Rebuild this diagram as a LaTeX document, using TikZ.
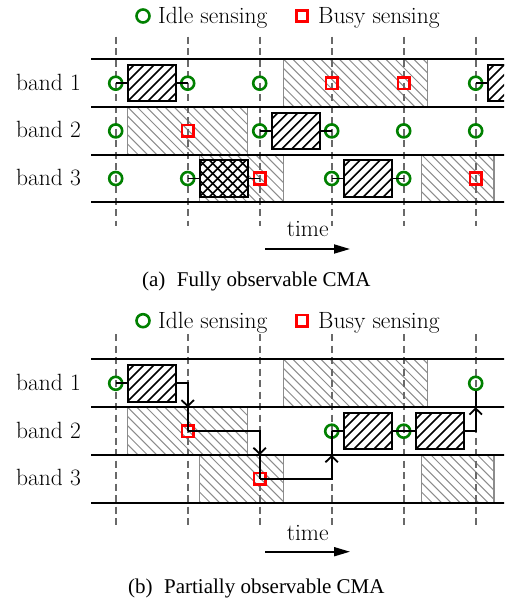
\documentclass[tikz,border=0pt]{standalone}
\usepackage{fontspec}
\newfontfamily\capfont{Liberation Serif}
\usetikzlibrary{arrows.meta}
\definecolor{idlegreen}{RGB}{0,128,0}
\definecolor{busyred}{RGB}{255,0,0}
\definecolor{dashgray}{RGB}{105,105,105}
\definecolor{hatchgray}{RGB}{140,140,140}
\tikzset{
  hatchNE/.style={path picture={
    \foreach \k in {-6,...,6}
      \draw[black, line width=1.6pt] ([xshift=\k*10pt]path picture bounding box.south west) -- ++(80pt,80pt);}},
  hatchX/.style={path picture={
    \foreach \k in {-6,...,6}{
      \draw[black, line width=1.6pt] ([xshift=\k*10pt]path picture bounding box.south west) -- ++(80pt,80pt);
      \draw[black, line width=1.6pt] ([xshift=\k*10pt]path picture bounding box.north west) -- ++(80pt,-80pt);}}},
  grayNW/.style={path picture={
    \foreach \k in {-8,...,18}
      \draw[hatchgray, line width=1pt] ([xshift=\k*9.3pt]path picture bounding box.north west) -- ++(90pt,-90pt);}},
  idle/.style={circle, draw=idlegreen, line width=2.6pt, minimum size=13pt, inner sep=0pt},
  busy/.style={rectangle, draw=busyred, line width=2.6pt, minimum size=11.5pt, inner sep=0pt},
  txbox/.style={rectangle, draw=black, line width=2pt, fill=white, minimum width=48.3pt, minimum height=36.5pt, inner sep=0pt, hatchNE},
  xbox/.style={rectangle, draw=black, line width=2pt, fill=white, minimum width=48.3pt, minimum height=36.5pt, inner sep=0pt, hatchX},
  occupied/.style={draw=hatchgray, line width=1.3pt, grayNW},
  bandline/.style={line width=2pt},
  tickline/.style={draw=dashgray, line width=1.6pt, dash pattern=on 7pt off 4.5pt},
  link/.style={line width=1.8pt},
  barb/.style={line width=1.8pt, -{Straight Barb[length=6pt,width=12.5pt]}},
  timearrow/.style={line width=1.8pt, -{Triangle[length=16pt,width=9pt]}},
  lbl/.style={font=\fontsize{23.5}{28}\selectfont, inner sep=0pt},
  caplbl/.style={font=\capfont\fontsize{21}{25}\selectfont, inner sep=0pt},
}
\begin{document}
\begin{tikzpicture}[x=1pt,y=-1pt]
\path[use as bounding box] (0,0) rectangle (504,600);
\clip (0,0) rectangle (504,600);

%%%%%%%%%%%%%%%% (a) %%%%%%%%%%%%%%%%
\path[occupied] (283.7,59.3) rectangle (427.7,107);
\path[occupied] (127.7,107) rectangle (247.7,154.7);
\path[occupied] (199.7,154.7) rectangle (283.7,202.3);
\path[occupied] (421.7,154.7) rectangle (494,202.3);
\foreach \x in {115.7,187.7,259.7,331.7,403.7,475.7}
  \draw[tickline] (\x,36.7) -- (\x,226);
\foreach \y in {59.3,107,154.7,202.3}
  \draw[bandline] (91,\y) -- (510,\y);

\node[lbl, anchor=base east] (aL1) at (81,90) {band 1};
\node[lbl, anchor=base east] (aL2) at (81,137.9) {band 2};
\node[lbl, anchor=base east] (aL3) at (81,185.5) {band 3};

% legend
\node[idle] (aLgI) at (143,16) {};
\node[lbl, anchor=base west] (aLgIt) at (158,23.5) {Idle sensing};
\node[busy] (aLgB) at (302,16) {};
\node[lbl, anchor=base west] (aLgBt) at (318,23.5) {Busy sensing};

% boxes
\node[txbox] (aB1a) at (151.7,83.2) {};
\node[txbox] (aB1b) at (511.7,83.2) {};
\node[txbox] (aB2) at (295.7,130.9) {};
\node[xbox] (aB3a) at (223.7,178.5) {};
\node[txbox] (aB3b) at (367.7,178.5) {};

% band 1 markers
\node[idle] (a10) at (115.7,83.2) {};
\node[idle] (a11) at (187.7,83.2) {};
\node[idle] (a12) at (259.7,83.2) {};
\node[busy] (a13) at (331.7,83.2) {};
\node[busy] (a14) at (403.7,83.2) {};
\node[idle] (a15) at (475.7,83.2) {};
% band 2 markers
\node[idle] (a20) at (115.7,130.9) {};
\node[busy] (a21) at (187.7,130.9) {};
\node[idle] (a22) at (259.7,130.9) {};
\node[idle] (a23) at (331.7,130.9) {};
\node[idle] (a24) at (403.7,130.9) {};
\node[idle] (a25) at (475.7,130.9) {};
% band 3 markers
\node[idle] (a30) at (115.7,178.5) {};
\node[idle] (a31) at (187.7,178.5) {};
\node[busy] (a32) at (259.7,178.5) {};
\node[idle] (a33) at (331.7,178.5) {};
\node[idle] (a34) at (403.7,178.5) {};
\node[busy] (a35) at (475.7,178.5) {};

% connectors
\draw[link] (a10.center) -- (aB1a.west);
\draw[link] (aB1a.east) -- (a11.center);
\draw[link] (a15.center) -- (aB1b.west);
\draw[link] (a22.center) -- (aB2.west);
\draw[link] (aB2.east) -- (a23.center);
\draw[link] (a31.center) -- (aB3a.west);
\draw[link] (aB3a.east) -- (a32.center);
\draw[link] (a33.center) -- (aB3b.west);
\draw[link] (aB3b.east) -- (a34.center);

% time
\node[lbl, anchor=base] (aT) at (307.7,236.7) {time};
\coordinate (aTs) at (265,249);
\coordinate (aTe) at (350,249);
\draw[timearrow] (aTs) -- (aTe);
\node[caplbl] (aCap) at (256.3,281.7) {(a)\hspace{0.55em}Fully observable CMA};

%%%%%%%%%%%%%%%% (b) %%%%%%%%%%%%%%%%
\path[occupied] (283.7,359.3) rectangle (427.7,407.3);
\path[occupied] (127.7,407.3) rectangle (247.7,455);
\path[occupied] (199.7,455) rectangle (283.7,502.7);
\path[occupied] (421.7,455) rectangle (494,502.7);
\foreach \x in {115.7,187.7,259.7,331.7,403.7,475.7}
  \draw[tickline] (\x,334) -- (\x,527);
\foreach \y in {359.3,407.3,455,502.7}
  \draw[bandline] (91,\y) -- (510,\y);

\node[lbl, anchor=base east] (bL1) at (81,390.3) {band 1};
\node[lbl, anchor=base east] (bL2) at (81,438.2) {band 2};
\node[lbl, anchor=base east] (bL3) at (81,485.9) {band 3};

% legend
\node[idle] (bLgI) at (143,320.7) {};
\node[lbl, anchor=base west] (bLgIt) at (158,328.2) {Idle sensing};
\node[busy] (bLgB) at (302,320.7) {};
\node[lbl, anchor=base west] (bLgBt) at (318,328.2) {Busy sensing};

% boxes
\node[txbox] (bB1) at (151.7,383.3) {};
\node[txbox] (bB2a) at (367.7,431.2) {};
\node[txbox] (bB2b) at (439.7,431.2) {};

% markers
\node[idle] (b10) at (115.7,383.3) {};
\node[idle] (b15) at (475.7,383.3) {};
\node[busy] (b21) at (187.7,431.2) {};
\node[idle] (b23) at (331.7,431.2) {};
\node[idle] (b24) at (403.7,431.2) {};
\node[busy] (b32) at (259.7,478.9) {};

% crossing points
\coordinate (bK1) at (187.7,407.3);
\coordinate (bK2) at (259.7,455);
\coordinate (bK3) at (331.7,455);
\coordinate (bK4) at (475.7,407.3);

% connectors
\draw[link] (b10.center) -- (bB1.west);
\draw[barb] (bB1.east) -| (bK1);
\draw[link] (bK1) -- (b21.center);
\draw[barb] (b21.center) -| (bK2);
\draw[link] (bK2) -- (b32.center);
\draw[barb] (b32.center) -| (bK3);
\draw[link] (bK3) -- (b23.center);
\draw[link] (b23.center) -- (bB2a.west);
\draw[link] (bB2a.east) -- (b24.center);
\draw[link] (b24.center) -- (bB2b.west);
\draw[barb] (bB2b.east) -| (bK4);
\draw[link] (bK4) -- (b15.south);

% time
\node[lbl, anchor=base] (bT) at (307.7,540.7) {time};
\coordinate (bTs) at (265,551.7);
\coordinate (bTe) at (350,551.7);
\draw[timearrow] (bTs) -- (bTe);
\node[caplbl] (bCap) at (256.3,588.3) {(b)\hspace{0.55em}Partially observable CMA};
\end{tikzpicture}
\end{document}
